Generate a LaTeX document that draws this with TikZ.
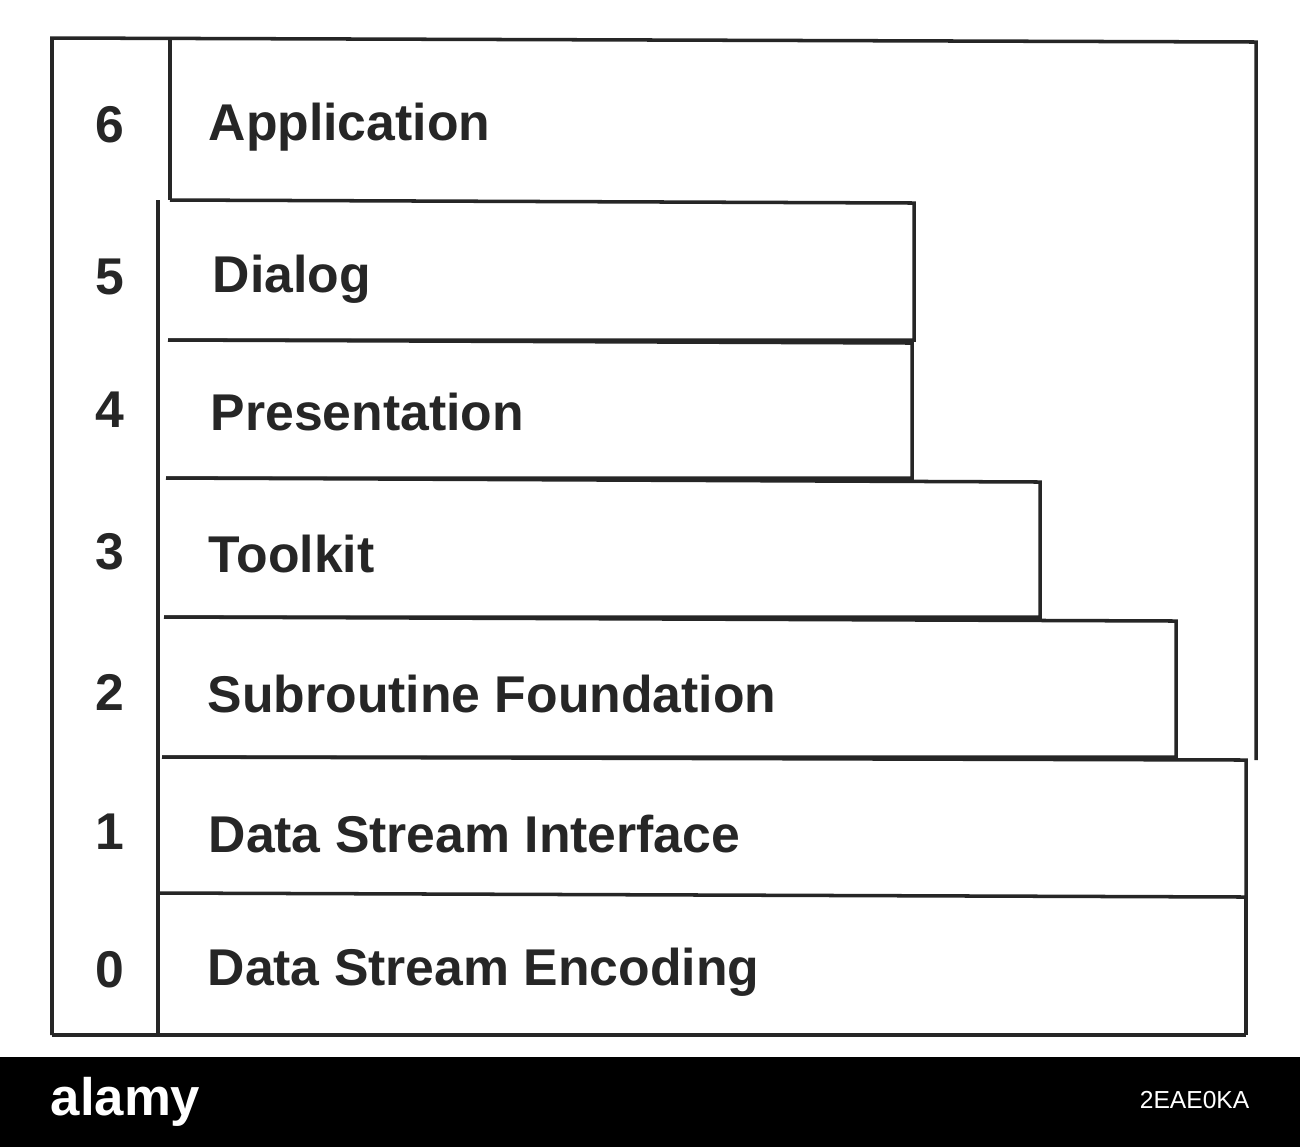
\documentclass[tikz,border=0pt]{standalone}
\usepackage{fontspec}
\setmainfont{Liberation Sans}
\begin{document}
\begin{tikzpicture}[x=0.01cm,y=-0.01cm,
  ln/.style={line width=1pt,black!85},
  lbl/.style={anchor=west,font=\fontsize{14.7}{17}\selectfont\bfseries,text=black!85,inner sep=0},
  num/.style={font=\fontsize{14.7}{17}\selectfont\bfseries,text=black!85,inner sep=0}]
\useasboundingbox (0,0) rectangle (1300,1147);
\fill[white] (0,0) rectangle (1300,1147);
% outer frame
\draw[ln] (52,1035) -- (52,38) -- (1256,42) -- (1256,760);
\draw[ln] (52,1035) -- (1246,1035);
\draw[ln] (170,38) -- (170,200);
\draw[ln] (158,1035) -- (158,200);
% layer boxes
\draw[ln] (170,200) -- (914,203) -- (914,340) -- (168,340);
\draw[ln] (168,340) -- (912,343) -- (912,478) -- (166,478);
\draw[ln] (166,478) -- (1040,482) -- (1040,617) -- (164,617);
\draw[ln] (164,617) -- (1176,621) -- (1176,757) -- (162,757);
\draw[ln] (162,757) -- (1246,760) -- (1246,897) -- (160,893);
\draw[ln] (1246,897) -- (1246,1035);
% numbers
\foreach \n/\y in {6/125,5/277,4/410,3/552,2/692,1/832,0/970}
  \node[num] (n\n) at (110,\y) {\n};
% labels
\node[lbl] (l6) at (208,127) {Application};
\node[lbl] (l5) at (212,279) {Dialog};
\node[lbl] (l4) at (210,412) {Presentation};
\node[lbl] (l3) at (208,554) {Toolkit};
\node[lbl] (l2) at (207,694) {Subroutine Foundation};
\node[lbl] (l1) at (208,834) {Data Stream Interface};
\node[lbl] (l0) at (207,972) {Data Stream Encoding};
% watermark band
\fill[black] (0,1057) rectangle (1300,1147);
\node[anchor=west,text=white,inner sep=0,font=\fontsize{15}{17}\selectfont\bfseries] (wm) at (50,1102) {alamy};
\node[anchor=east,text=white,inner sep=0,font=\fontsize{7}{8}\selectfont] (id) at (1250,1100) {2EAE0KA};
\end{tikzpicture}
\end{document}
